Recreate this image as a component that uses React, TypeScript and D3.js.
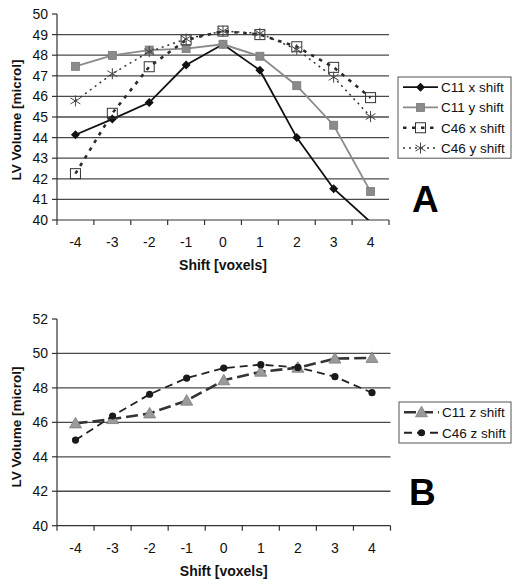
import React from "react";
import * as d3 from "d3";

const shifts = [-4, -3, -2, -1, 0, 1, 2, 3, 4];

const c11x = [44.14, 44.9, 45.7, 47.52, 48.53, 47.27, 44.0, 41.52, 39.9];
const c11y = [47.46, 47.99, 48.25, 48.32, 48.53, 47.95, 46.52, 44.6, 41.38];
const c46x = [42.25, 45.18, 47.44, 48.74, 49.17, 49.0, 48.41, 47.41, 45.94];
const c46y = [45.78, 47.1, 48.17, 48.79, 49.17, 49.06, 48.28, 46.93, 45.02];

const c11z = [45.94, 46.19, 46.52, 47.26, 48.44, 48.94, 49.17, 49.7, 49.74];
const c46z = [44.97, 46.37, 47.63, 48.57, 49.15, 49.35, 49.19, 48.65, 47.72];

const yTicksA = [40, 41, 42, 43, 44, 45, 46, 47, 48, 49, 50];
const yTicksB = [40, 42, 44, 46, 48, 50, 52];

const FONT = "'Liberation Sans', Arial, sans-serif";
const GRID = "#4a4a4a";
const AXIS = "#333";

type Marker = "diamond" | "square" | "openSquare" | "asterisk" | "triangle" | "circle";

interface Series {
  name: string;
  values: number[];
  color: string;
  width: number;
  dash?: string;
  marker: Marker;
}

function MarkerShape({ type, x, y }: { type: Marker; x: number; y: number }) {
  switch (type) {
    case "diamond":
      return <path d={`M${x},${y - 4.5}L${x + 4.5},${y}L${x},${y + 4.5}L${x - 4.5},${y}Z`} fill="#111" />;
    case "square":
      return <rect x={x - 4} y={y - 4} width={8} height={8} fill="#8a8a8a" stroke="#7a7a7a" strokeWidth={0.8} />;
    case "openSquare":
      return <rect x={x - 5} y={y - 5} width={10} height={10} fill="none" stroke="#333" strokeWidth={1} />;
    case "asterisk": {
      const r = 5.5;
      return (
        <g stroke="#444" strokeWidth={1}>
          <line x1={x} y1={y - r} x2={x} y2={y + r} />
          <line x1={x - r * 0.9} y1={y - r * 0.55} x2={x + r * 0.9} y2={y + r * 0.55} />
          <line x1={x - r * 0.9} y1={y + r * 0.55} x2={x + r * 0.9} y2={y - r * 0.55} />
        </g>
      );
    }
    case "triangle":
      return (
        <path
          d={`M${x},${y - 6}L${x + 6},${y + 4.5}L${x - 6},${y + 4.5}Z`}
          fill="#9a9a9a"
          stroke="#7a7a7a"
          strokeWidth={0.8}
        />
      );
    case "circle":
      return <circle cx={x} cy={y} r={3.6} fill="#1a1a1a" />;
  }
}

interface PanelProps {
  id: string;
  left: number;
  right: number;
  top: number;
  bottom: number;
  yMin: number;
  yMax: number;
  yTicks: number[];
  gridTicks: number[];
  series: Series[];
  legendX: number;
  legendY: number;
  legendW: number;
  legendRow: number;
  letter: string;
  letterX: number;
  letterY: number;
  yTitleY: number;
}

function Panel(p: PanelProps) {
  const x = d3.scalePoint<number>().domain(shifts).range([p.left, p.right]).padding(0.5);
  const y = d3.scaleLinear().domain([p.yMin, p.yMax]).range([p.bottom, p.top]);
  const step = x.step();
  const boundaries = d3.range(shifts.length + 1).map((i) => p.left + i * step);
  const clipId = `clip-${p.id}`;
  const legendH = p.series.length * p.legendRow;

  return (
    <g>
      <defs>
        <clipPath id={clipId}>
          <rect x={p.left} y={p.top - 10} width={p.right - p.left + 10} height={p.bottom - p.top + 10} />
        </clipPath>
      </defs>
      {p.gridTicks.map((t) => (
        <line key={t} x1={p.left} x2={p.right} y1={y(t)} y2={y(t)} stroke={GRID} strokeWidth={1.3} />
      ))}
      <line x1={p.left} x2={p.left} y1={p.top} y2={p.bottom} stroke={AXIS} strokeWidth={1.2} />
      <line x1={p.left} x2={p.right} y1={p.bottom} y2={p.bottom} stroke={AXIS} strokeWidth={1.2} />
      {p.yTicks.map((t) => (
        <g key={t}>
          <line x1={p.left - 5} x2={p.left} y1={y(t)} y2={y(t)} stroke={AXIS} strokeWidth={1.2} />
          <text x={p.left - 9} y={y(t) + 5} textAnchor="end" fontSize={14} fontFamily={FONT} fill="#111">
            {t}
          </text>
        </g>
      ))}
      {boundaries.map((b, i) => (
        <line key={i} x1={b} x2={b} y1={p.bottom} y2={p.bottom + 5} stroke={AXIS} strokeWidth={1.2} />
      ))}
      {shifts.map((s) => (
        <text key={s} x={x(s)!} y={p.bottom + 27} textAnchor="middle" fontSize={14} fontFamily={FONT} fill="#111">
          {s}
        </text>
      ))}
      <text
        x={(p.left + p.right) / 2}
        y={p.bottom + 50}
        textAnchor="middle"
        fontSize={14}
        fontWeight="bold"
        fontFamily={FONT}
        fill="#111"
      >
        Shift [voxels]
      </text>
      <text
        transform={`translate(21,${p.yTitleY}) rotate(-90)`}
        textAnchor="middle"
        fontSize={13.5}
        fontWeight="bold"
        fontFamily={FONT}
        fill="#111"
      >
        LV Volume [microl]
      </text>
      <g clipPath={`url(#${clipId})`}>
        {p.series.map((s) => {
          const line = d3
            .line<number>()
            .x((_, i) => x(shifts[i])!)
            .y((v) => y(v));
          return (
            <g key={s.name}>
              <path d={line(s.values)!} fill="none" stroke={s.color} strokeWidth={s.width} strokeDasharray={s.dash} />
              {s.values.map((v, i) =>
                v >= p.yMin ? <MarkerShape key={i} type={s.marker} x={x(shifts[i])!} y={y(v)} /> : null
              )}
            </g>
          );
        })}
      </g>
      <rect
        x={p.legendX}
        y={p.legendY}
        width={p.legendW}
        height={legendH}
        fill="white"
        stroke="#555"
        strokeWidth={1}
      />
      {p.series.map((s, i) => {
        const cy = p.legendY + p.legendRow * (i + 0.5);
        const lx1 = p.legendX + 5;
        const lx2 = p.legendX + 40;
        return (
          <g key={s.name}>
            <line x1={lx1} x2={lx2} y1={cy} y2={cy} stroke={s.color} strokeWidth={s.width} strokeDasharray={s.dash} />
            <MarkerShape type={s.marker} x={(lx1 + lx2) / 2} y={cy} />
            <text x={p.legendX + 43} y={cy + 5} fontSize={13.5} fontFamily={FONT} fill="#111">
              {s.name}
            </text>
          </g>
        );
      })}
      <text x={p.letterX} y={p.letterY} fontSize={37} fontWeight="bold" fontFamily={FONT} fill="#000">
        {p.letter}
      </text>
    </g>
  );
}

export default function App() {
  const seriesA: Series[] = [
    { name: "C11 x shift", values: c11x, color: "#111", width: 1.8, marker: "diamond" },
    { name: "C11 y shift", values: c11y, color: "#8a8a8a", width: 1.8, marker: "square" },
    { name: "C46 x shift", values: c46x, color: "#2a2a2a", width: 2.6, dash: "3.5,5.5", marker: "openSquare" },
    { name: "C46 y shift", values: c46y, color: "#333", width: 1.5, dash: "2,4", marker: "asterisk" },
  ];
  const seriesB: Series[] = [
    { name: "C11 z shift", values: c11z, color: "#333", width: 2.6, dash: "12,5", marker: "triangle" },
    { name: "C46 z shift", values: c46z, color: "#222", width: 1.8, dash: "8,5", marker: "circle" },
  ];
  return (
    <svg width={522} height={586} style={{ position: "absolute", left: 0, top: 0, background: "white" }}>
      <rect width={522} height={586} fill="white" />
      <Panel
        id="A"
        left={57}
        right={389}
        top={14}
        bottom={220}
        yMin={40}
        yMax={50}
        yTicks={yTicksA}
        gridTicks={yTicksA.slice(1, -1)}
        series={seriesA}
        legendX={398}
        legendY={77}
        legendW={113}
        legendRow={20.3}
        letter="A"
        letterX={412}
        letterY={211.5}
        yTitleY={120}
      />
      <Panel
        id="B"
        left={57}
        right={390.5}
        top={319}
        bottom={525.7}
        yMin={40}
        yMax={52}
        yTicks={yTicksB}
        gridTicks={yTicksB.slice(1, -1)}
        series={seriesB}
        legendX={399}
        legendY={402}
        legendW={112}
        legendRow={20.5}
        letter="B"
        letterX={409}
        letterY={505}
        yTitleY={427}
      />
    </svg>
  );
}
